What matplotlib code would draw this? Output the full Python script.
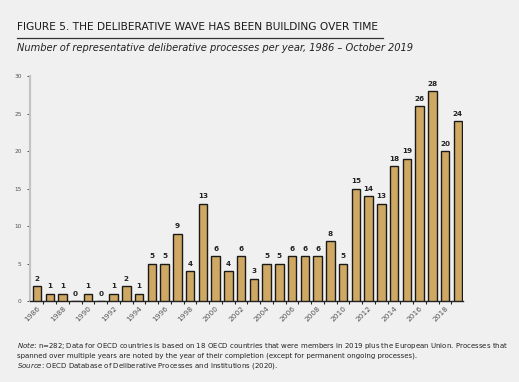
import numpy as np
import matplotlib.pyplot as plt
from matplotlib.lines import Line2D

years = list(range(1986, 2020))
counts = [2, 1, 1, 0, 1, 0, 1, 2, 1, 5, 5, 9, 4, 13, 6, 4, 6, 3, 5, 5,
          6, 6, 6, 8, 5, 15, 14, 13, 18, 19, 26, 28, 20, 24]
yticks = [0, 5, 10, 15, 20, 25, 30]

bg = '#f0f0f0'
bar_color = '#cfa964'

fig = plt.figure(figsize=(5.19, 3.82), dpi=100, facecolor=bg)
ax = fig.add_axes([0.058, 0.212, 0.834, 0.589], facecolor=bg)

x = np.arange(len(years))
ax.bar(x, counts, width=0.68, color=bar_color, edgecolor='#1a1a1a', linewidth=1.0, zorder=3)

for xi, c in zip(x, counts):
    ax.text(xi, c + 0.6, str(c), ha='center', va='bottom', fontsize=5.2,
            fontweight='bold', color='#222222')

ax.set_xlim(-0.55, len(years) - 0.6)
ax.set_ylim(0, 30)
ax.set_yticks(yticks)
ax.set_yticklabels([str(t) for t in yticks], fontsize=4.2, color='#555555')
ax.tick_params(axis='y', length=2, width=0.6, color='#333333', pad=4)

ax.set_xticks(x[::2])
ax.set_xticklabels([str(y) for y in years[::2]], rotation=45, ha='right',
                   rotation_mode='anchor', fontsize=5.3, color='#555555')
ax.set_xticks(x[:-1] + 0.5, minor=True)
ax.tick_params(axis='x', which='major', length=0, pad=3)
ax.tick_params(axis='x', which='minor', length=2.5, width=0.8, color='#222222')

for s in ['top', 'right']:
    ax.spines[s].set_visible(False)
ax.spines['left'].set_color('#c4c4c4')
ax.spines['left'].set_linewidth(1.6)
ax.spines['bottom'].set_color('#222222')
ax.spines['bottom'].set_linewidth(1.0)

fig.text(17 / 519, 1 - 27 / 382, 'FIGURE 5. THE DELIBERATIVE WAVE HAS BEEN BUILDING OVER TIME',
         fontsize=7.7, color='#1a1a1a', va='center', ha='left')
fig.add_artist(Line2D([17 / 519, 383 / 519], [1 - 38 / 382, 1 - 38 / 382],
                      transform=fig.transFigure, color='#333333', linewidth=0.9))
fig.text(17 / 519, 1 - 48 / 382,
         'Number of representative deliberative processes per year, 1986 \u2013 October 2019',
         fontsize=7.1, style='italic', color='#222222', va='center', ha='left')

note = ('$\\it{Note}$: n=282; Data for OECD countries is based on 18 OECD countries that were members in 2019 plus the European Union. Processes that\n'
        'spanned over multiple years are noted by the year of their completion (except for permanent ongoing processes).\n'
        '$\\it{Source}$: OECD Database of Deliberative Processes and Institutions (2020).')
fig.text(17 / 519, 1 - 340 / 382, note, fontsize=5.05, color='#222222', va='top', ha='left',
         linespacing=1.3)

fig.savefig('out.png', dpi=100, facecolor=bg)
